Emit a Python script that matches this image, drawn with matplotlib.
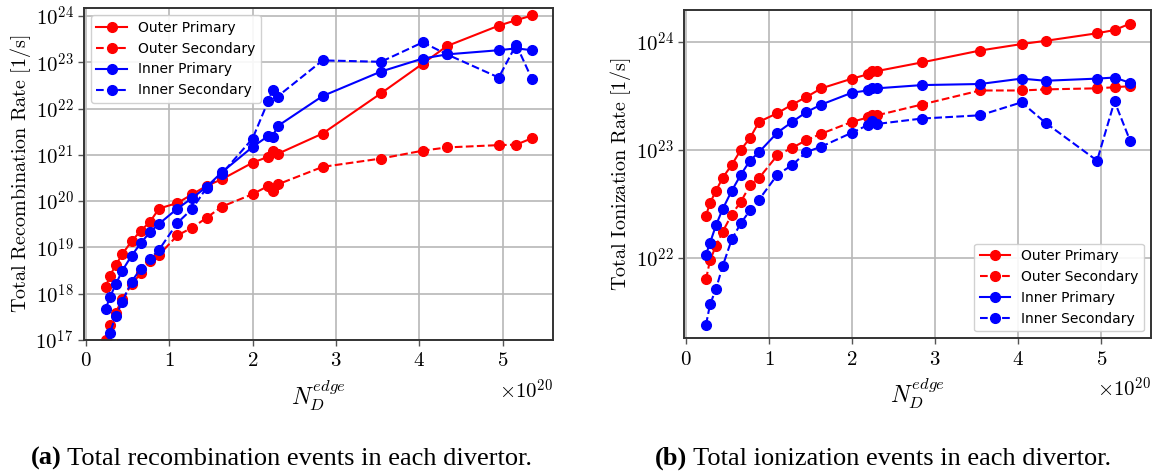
import numpy as np
import matplotlib
matplotlib.use("Agg")
from matplotlib import pyplot as plt
from matplotlib.ticker import FuncFormatter, FixedLocator, NullLocator

plt.rcParams['mathtext.fontset'] = 'cm'

# edge deuterium inventory, units of 1e20
n_edge = [0.24, 0.29, 0.36, 0.44, 0.55, 0.66, 0.77, 0.88, 1.10, 1.28, 1.45, 1.63,
          2.00, 2.19, 2.24, 2.30, 2.84, 3.54, 4.04, 4.33, 4.95, 5.16, 5.35]

# log10 of total recombination rate [1/s]
rec_outer_pri = [18.14, 18.39, 18.61, 18.86, 19.13, 19.36, 19.55, 19.84, 19.96, 20.15, 20.33, 20.47,
                 20.83, 20.96, 21.09, 21.02, 21.46, 22.33, 22.97, 23.35, 23.79, 23.91, 24.01]
rec_outer_sec = [16.99, 17.32, 17.59, 17.88, 18.20, 18.44, 18.71, 18.84, 19.26, 19.43, 19.64, 19.88,
                 20.15, 20.33, 20.22, 20.36, 20.74, 20.92, 21.09, 21.16, 21.21, 21.22, 21.36]
rec_inner_pri = [17.67, 17.92, 18.20, 18.50, 18.82, 19.09, 19.33, 19.51, 19.84, 20.07, 20.31, 20.62,
                 21.17, 21.41, 21.39, 21.62, 22.27, 22.80, 23.08, 23.17, 23.26, 23.30, 23.26]
rec_inner_sec = [16.75, 17.15, 17.51, 17.83, 18.26, 18.54, 18.75, 18.95, 19.53, 19.84, 20.29, 20.59,
                 21.35, 22.17, 22.41, 22.26, 23.04, 23.01, 23.43, 23.17, 22.67, 23.38, 22.63]

# log10 of total ionization rate [1/s]
ion_outer_pri = [22.39, 22.51, 22.62, 22.74, 22.86, 23.00, 23.11, 23.26, 23.34, 23.42, 23.49, 23.57,
                 23.66, 23.70, 23.73, 23.73, 23.81, 23.92, 23.98, 24.01, 24.08, 24.11, 24.17]
ion_outer_sec = [21.80, 21.98, 22.11, 22.24, 22.40, 22.52, 22.67, 22.74, 22.95, 23.02, 23.09, 23.15,
                 23.26, 23.30, 23.32, 23.32, 23.42, 23.55, 23.55, 23.56, 23.57, 23.58, 23.59]
ion_inner_pri = [22.03, 22.14, 22.30, 22.45, 22.62, 22.77, 22.90, 22.98, 23.16, 23.26, 23.35, 23.42,
                 23.53, 23.55, 23.57, 23.57, 23.60, 23.61, 23.66, 23.64, 23.66, 23.67, 23.62]
ion_inner_sec = [21.38, 21.57, 21.71, 21.92, 22.17, 22.32, 22.44, 22.54, 22.77, 22.86, 22.98, 23.03,
                 23.16, 23.23, 23.27, 23.24, 23.29, 23.32, 23.44, 23.25, 22.90, 23.45, 23.08]

labels = ["Outer Primary", "Outer Secondary", "Inner Primary", "Inner Secondary"]
styles = [("red", "-"), ("red", "--"), ("blue", "-"), ("blue", "--")]


def draw(ax, series, ylim, yticks, ylabel, legend_loc):
    for vals, lab, (c, ls) in zip(series, labels, styles):
        ax.plot(n_edge, 10.0 ** np.array(vals), color=c, linestyle=ls, marker="o",
                markersize=7, linewidth=1.5, label=lab)
    ax.set_yscale("log")
    ax.set_xlim(-0.02, 5.6)
    ax.set_ylim(ylim)
    ax.yaxis.set_major_locator(FixedLocator([10.0 ** e for e in yticks]))
    ax.yaxis.set_minor_locator(NullLocator())
    ax.yaxis.set_major_formatter(FuncFormatter(lambda v, p: r"$10^{%d}$" % round(np.log10(v))))
    ax.set_xticks(range(6))
    ax.xaxis.set_major_formatter(FuncFormatter(lambda v, p: r"$%d$" % v))
    ax.tick_params(labelsize=15, color="#555555", length=4, width=1)
    ax.grid(True, color="#b8b8b8", linewidth=1.2)
    ax.set_axisbelow(True)
    for s in ax.spines.values():
        s.set_color("#333333")
        s.set_linewidth(1.4)
    ax.set_xlabel(r"$N_D^{edge}$", fontsize=17, labelpad=6)
    ax.set_ylabel(ylabel, fontsize=14.5, labelpad=2)
    ax.text(1.0, -0.115, r"$\times10^{20}$", transform=ax.transAxes, ha="right", va="top", fontsize=15)
    ax.legend(loc=legend_loc, fontsize=10, framealpha=0.9, edgecolor="#cccccc",
              fancybox=True, handlelength=2.2)


def caption(fig, x, tag, body):
    t = fig.text(x, 1 - 465 / 476, tag, ha="left", va="baseline", fontsize=19,
                 family="Liberation Serif", weight="bold")
    plt.annotate(" " + body, xy=(1, 0), xycoords=t, va="bottom", ha="left",
                 fontsize=19, family="Liberation Serif", annotation_clip=False)


fig = plt.figure(figsize=(11.58, 4.76), dpi=100)
ax1 = fig.add_axes([0.0725, 0.2857, 0.405, 0.6973])
ax2 = fig.add_axes([0.591, 0.289, 0.403, 0.691])

draw(ax1, [rec_outer_pri, rec_outer_sec, rec_inner_pri, rec_inner_sec],
     (1e17, 10 ** 24.17), range(17, 25),
     r"$\mathrm{Total\ Recombination\ Rate\ [1/s]}$", "upper left")
draw(ax2, [ion_outer_pri, ion_outer_sec, ion_inner_pri, ion_inner_sec],
     (10 ** 21.253, 10 ** 24.30), range(22, 25),
     r"$\mathrm{Total\ Ionization\ Rate\ [1/s]}$", "lower right")

caption(fig, 30.5 / 1158, "(a)", "Total recombination events in each divertor.")
caption(fig, 654.5 / 1158, "(b)", "Total ionization events in each divertor.")

fig.savefig("out.png", dpi=100)
